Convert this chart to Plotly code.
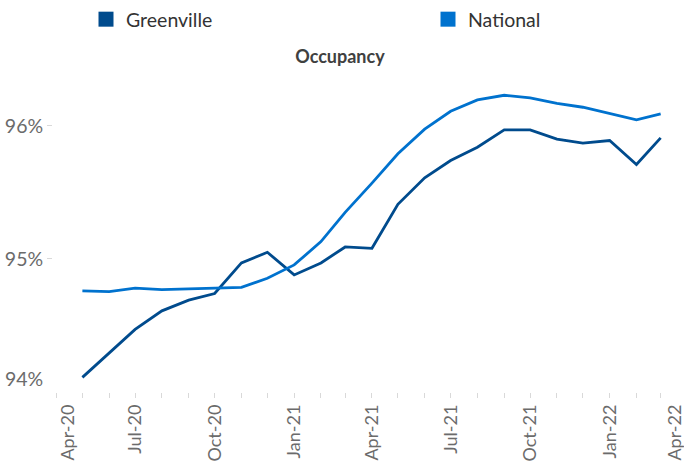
import plotly.graph_objects as go

months = ["2020-05-01", "2020-06-01", "2020-07-01", "2020-08-01", "2020-09-01", "2020-10-01",
          "2020-11-01", "2020-12-01", "2021-01-01", "2021-02-01", "2021-03-01", "2021-04-01",
          "2021-05-01", "2021-06-01", "2021-07-01", "2021-08-01", "2021-09-01", "2021-10-01",
          "2021-11-01", "2021-12-01", "2022-01-01", "2022-02-01", "2022-03-01"]

greenville = [94.11, 94.29, 94.47, 94.61, 94.69, 94.74, 94.97, 95.05, 94.88, 94.97, 95.09, 95.08,
              95.41, 95.61, 95.74, 95.84, 95.97, 95.97, 95.90, 95.87, 95.89, 95.71, 95.91]

national = [94.76, 94.755, 94.78, 94.77, 94.775, 94.78, 94.787, 94.855, 94.955, 95.13, 95.35, 95.57,
            95.79, 95.975, 96.11, 96.195, 96.23, 96.21, 96.17, 96.14, 96.09, 96.045, 96.09]

tick_dates = ["2020-04-14", "2020-07-01 12:00", "2020-10-01 12:00", "2021-01-01 12:00",
              "2021-04-01 12:00", "2021-07-01 12:00", "2021-10-01 12:00", "2022-01-01 12:00",
              "2022-03-18"]
tick_labels = ["Apr-20", "Jul-20", "Oct-20", "Jan-21", "Apr-21", "Jul-21", "Oct-21", "Jan-22", "Apr-22"]

y_ticks = [95, 96]
y_tick_labels = ["95%", "96%"]

c_green = "#004B8D"
c_nat = "#0072CE"

fig = go.Figure()
fig.add_trace(go.Scatter(x=months, y=greenville, mode="lines", line=dict(color=c_green, width=2.8),
                         showlegend=False, name="Greenville"))
fig.add_trace(go.Scatter(x=months, y=national, mode="lines", line=dict(color=c_nat, width=2.8),
                         showlegend=False, name="National"))
# legend entries (square markers)
fig.add_trace(go.Scatter(x=[None], y=[None], mode="markers", name="Greenville", legend="legend",
                         marker=dict(symbol="square", size=15, color=c_green)))
fig.add_trace(go.Scatter(x=[None], y=[None], mode="markers", name="National", legend="legend2",
                         marker=dict(symbol="square", size=15, color=c_nat)))

legend_font = dict(size=19.5, color="#333333", family="Lato")

fig.update_layout(
    width=684, height=465,
    margin=dict(l=53, r=0, t=66, b=73, autoexpand=False),
    paper_bgcolor="white", plot_bgcolor="white",
    font=dict(family="Lato", color="#404040"),
    title=dict(text="<b>Occupancy</b>", x=0.497, xref="container", y=1 - 57 / 465,
               yref="container", xanchor="center", yanchor="middle",
               font=dict(size=18, color="#404040", family="Lato")),
    legend=dict(orientation="h", x=86 / 684, xref="container", xanchor="left",
                y=1, yref="container", yanchor="top",
                font=legend_font, bgcolor="rgba(0,0,0,0)"),
    legend2=dict(orientation="h", x=428 / 684, xref="container", xanchor="left",
                 y=1, yref="container", yanchor="top",
                 font=legend_font, bgcolor="rgba(0,0,0,0)"),
    xaxis=dict(type="date", range=["2020-03-28", "2022-03-28"], showgrid=False, zeroline=False,
               showline=False, tickvals=tick_dates, ticktext=tick_labels, ticks="",
               tickangle=-90, tickfont=dict(size=18, color="#6b6b6b", family="Lato"),
               ticklabelstandoff=8, automargin=False, ticklabeloverflow="allow",
               minor=dict(ticks="outside", dtick="M1", tick0="2020-05-01", ticklen=5,
                          tickcolor="#d9d9d9", tickwidth=1, showgrid=False)),
    yaxis=dict(range=[94, 96.45], showgrid=False, zeroline=False, showline=False,
               tickvals=y_ticks, ticktext=y_tick_labels, ticks="outside", ticklen=5,
               tickcolor="#d9d9d9", automargin=False,
               tickfont=dict(size=19.5, color="#6b6b6b", family="Lato")),
    annotations=[dict(text="94%", xref="paper", x=0, xanchor="right", xshift=-8,
                      yref="y", y=94.1, yanchor="middle", showarrow=False,
                      font=dict(size=19.5, color="#6b6b6b", family="Lato"))],
)

fig.write_html("out.html", config={"displayModeBar": False},
               post_script="document.body.style.margin='0';")
